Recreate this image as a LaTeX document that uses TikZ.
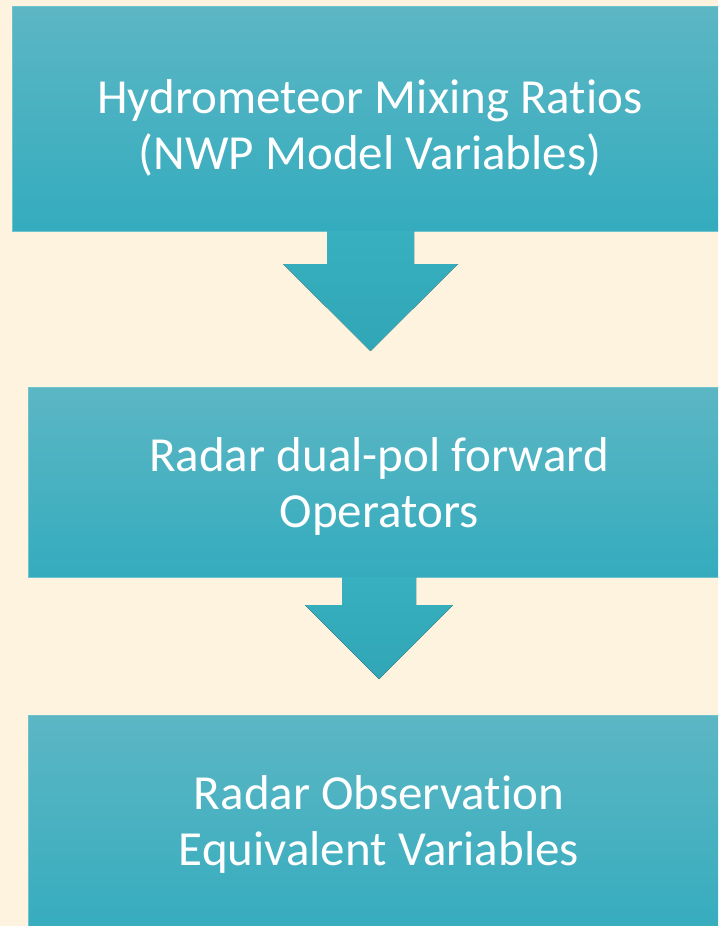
\documentclass[tikz,border=0pt]{standalone}
\usepackage{fontspec}
\setmainfont[Ligatures=NoCommon]{Carlito}
\definecolor{bg}{RGB}{253,243,222}
\definecolor{boxtop}{RGB}{92,182,196}
\definecolor{boxbot}{RGB}{52,172,190}
\definecolor{boxline}{RGB}{112,194,206}
\definecolor{arrowtop}{RGB}{56,176,192}
\definecolor{arrowbot}{RGB}{48,166,182}
\tikzset{
  stepbox/.style={rectangle, draw=boxline, line width=0.8pt, top color=boxtop, bottom color=boxbot, inner sep=0pt, anchor=north west},
  steptext/.style={text=white, align=center, inner sep=0pt, font=\fontsize{49}{56}\selectfont},
  flowarrow/.style={top color=arrowtop, bottom color=arrowbot, draw=none}
}
\begin{document}
\begin{tikzpicture}[x=1pt,y=-1pt]
\useasboundingbox (0,0) rectangle (718,926);
\clip (0,0) rectangle (718,926);
\fill[bg] (0,0) rectangle (718,926);
% boxes
\node[stepbox, minimum width=716pt, minimum height=225pt] (b1) at (12,6) {};
\node[stepbox, minimum width=702pt, minimum height=190pt] (b2) at (28,387) {};
\node[stepbox, minimum width=702pt, minimum height=225pt] (b3) at (28,715) {};
% texts
\node[steptext] (t1) at (370,128) {Hydrometeor Mixing Ratios\\(NWP Model Variables)};
\node[steptext] (t2) at (379,486) {Radar dual-pol forward\\Operators};
\node[steptext] (t3) at (379,824) {Radar Observation\\Equivalent Variables};
% arrows
\fill[flowarrow] (327,231) -- (414,231) -- (414,264) -- (458,264) -- (370.5,351) -- (283,264) -- (327,264) -- cycle;
\fill[flowarrow] (342,577) -- (416,577) -- (416,605) -- (453,605) -- (379,679) -- (305,605) -- (342,605) -- cycle;
\end{tikzpicture}
\end{document}
